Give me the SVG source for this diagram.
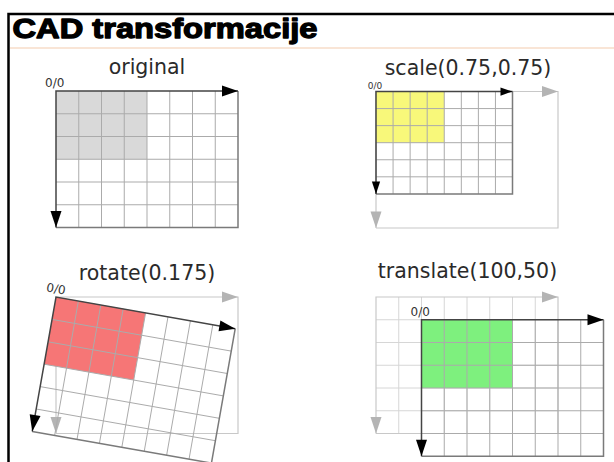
<svg xmlns="http://www.w3.org/2000/svg" xmlns:xlink="http://www.w3.org/1999/xlink" width="614" height="462" viewBox="0 0 614 462">
<style>
.ttl{font-family:"DejaVu Sans",sans-serif;font-size:20.5px;fill:#2a2a2a;text-anchor:middle}
.org{font-family:"DejaVu Sans",sans-serif;font-size:12px;fill:#333}
.in{stroke:#ababab;stroke-width:1;fill:none;vector-effect:non-scaling-stroke}
.ax{stroke:#444;stroke-width:1.5;fill:none;vector-effect:non-scaling-stroke}
.bd{stroke:#7a7a7a;stroke-width:1.5;fill:none;vector-effect:non-scaling-stroke}
.gh{stroke:#d6d6d6;stroke-width:1;fill:none;vector-effect:non-scaling-stroke}
.ghb{stroke:#c8c8c8;stroke-width:1.2;fill:none;vector-effect:non-scaling-stroke}
.ah{fill:#000}
.gah{fill:#b4b4b4}
</style>
<defs>
<g id="grid">
<path class="in" d="M22.75 0V136.5M45.5 0V136.5M68.25 0V136.5M91 0V136.5M113.75 0V136.5M136.5 0V136.5M159.25 0V136.5M0 22.75H182M0 45.5H182M0 68.25H182M0 91H182M0 113.75H182"/>
<path class="bd" d="M182 0V136.5H0"/>
<path class="ax" d="M0 136.5V0H182"/>
<polygon class="ah" points="166,-5.5 182,0 166,5.5"/>
<polygon class="ah" points="-5.5,120 0,136.5 5.5,120"/>
</g>
<g id="ghost">
<path class="ghb" d="M0 136.5V0H182V136.5H0"/>
<polygon class="gah" points="166,-5.5 182,0 166,5.5"/>
<polygon class="gah" points="-5.5,120 0,136.5 5.5,120"/>
</g>
<g id="ghostgrid">
<path class="gh" d="M22.75 0V136.5M45.5 0V136.5M68.25 0V136.5M91 0V136.5M113.75 0V136.5M136.5 0V136.5M159.25 0V136.5M0 22.75H182M0 45.5H182M0 68.25H182M0 91H182M0 113.75H182"/>
</g>
</defs>
<rect width="614" height="462" fill="#fff"/>
<g id="frame">
<path d="M8.5 462V14H614" stroke="#000" stroke-width="2.5" fill="none"/>
<line x1="10" y1="48" x2="614" y2="48" stroke="#f7dcc8" stroke-width="1.5"/>
<text x="12.5" y="38" font-family="'Liberation Sans',Arial,sans-serif" font-size="27.5" font-weight="bold" textLength="305" lengthAdjust="spacingAndGlyphs" stroke="#000" stroke-width="1.3" stroke-linejoin="round">CAD transformacije</text>
</g>
<g id="panel-original">
<text class="ttl" x="147" y="74">original</text>
<g transform="translate(56,91)">
<rect width="91" height="68.25" fill="#d9d9d9"/>
<use xlink:href="#grid"/>
<text class="org" x="-11" y="-4">0/0</text>
</g>
</g>
<g id="panel-scale">
<text class="ttl" x="468" y="75">scale(0.75,0.75)</text>
<g transform="translate(376,91.5)">
<use xlink:href="#ghost"/>
<g transform="scale(0.75)">
<rect width="91" height="68.25" fill="#f8f87a"/>
<use xlink:href="#grid"/>
<text class="org" x="-11" y="-4">0/0</text>
</g>
</g>
</g>
<g id="panel-rotate">
<text class="ttl" x="147" y="280">rotate(0.175)</text>
<g transform="translate(56,297)">
<use xlink:href="#ghost"/>
<g transform="rotate(10.03)">
<rect width="91" height="68.25" fill="#f67676"/>
<use xlink:href="#grid"/>
<text class="org" x="-11" y="-4">0/0</text>
</g>
</g>
</g>
<g id="panel-translate">
<text class="ttl" x="467.5" y="278">translate(100,50)</text>
<g transform="translate(376,297)">
<use xlink:href="#ghostgrid"/>
<use xlink:href="#ghost"/>
<g transform="translate(45.5,22.75)">
<rect width="91" height="68.25" fill="#7ef07e"/>
<use xlink:href="#grid"/>
<text class="org" x="-11" y="-4">0/0</text>
</g>
</g>
</g>
</svg>
